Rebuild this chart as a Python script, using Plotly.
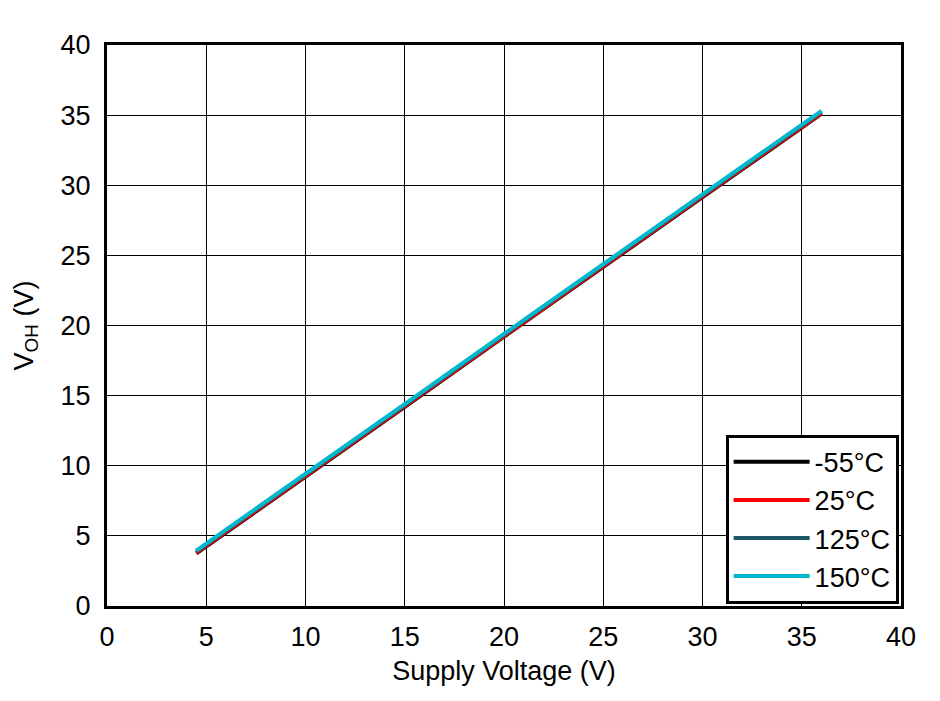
import plotly.graph_objects as go

supply_v = [4.5, 10, 15, 20, 25, 30, 36]
voh_m55 = [3.75, 9.2, 14.2, 19.2, 24.2, 29.15, 35.1]
voh_25 = [3.8, 9.25, 14.25, 19.25, 24.25, 29.2, 35.15]
voh_125 = [3.9, 9.35, 14.35, 19.35, 24.35, 29.3, 35.25]
voh_150 = [3.95, 9.4, 14.4, 19.4, 24.4, 29.35, 35.3]
names = ["-55°C", "25°C", "125°C", "150°C"]
colors = ["#000000", "#FF0000", "#1B5667", "#00B8CC"]

fig = go.Figure()
for name, ys, c in zip(names, [voh_m55, voh_25, voh_125, voh_150], colors):
    fig.add_trace(go.Scatter(x=supply_v, y=ys, mode="lines", name=name,
                             line=dict(color=c, width=4)))

font = dict(family="Liberation Sans, Arial, sans-serif", size=27, color="black")
fig.update_layout(
    width=940, height=701,
    margin=dict(l=99, r=47, t=37, b=103),
    paper_bgcolor="white", plot_bgcolor="white",
    font=font,
    showlegend=True,
    legend=dict(x=0.997, y=0.004, xanchor="right", yanchor="bottom",
                bordercolor="black", borderwidth=3, bgcolor="white",
                font=font, tracegroupgap=0, itemwidth=76),
)
fig.update_xaxes(range=[0, 40], dtick=5, showgrid=True, gridcolor="black", gridwidth=1,
                 showline=True, linecolor="black", linewidth=3, mirror=True,
                 zeroline=False, ticks="outside", ticklen=5, tickcolor="white",
                 automargin=False,
                 title=dict(text="Supply Voltage (V)", standoff=10, font=font),
                 tickfont=font)
fig.update_yaxes(range=[0, 40], dtick=5, showgrid=True, gridcolor="black", gridwidth=1,
                 showline=True, linecolor="black", linewidth=3, mirror=True,
                 zeroline=False, ticks="outside", ticklen=8, tickcolor="white",
                 automargin=False,
                 title=dict(text="V<sub>OH</sub> (V)", standoff=20, font=font),
                 tickfont=font)

fig.write_html("out.html")
